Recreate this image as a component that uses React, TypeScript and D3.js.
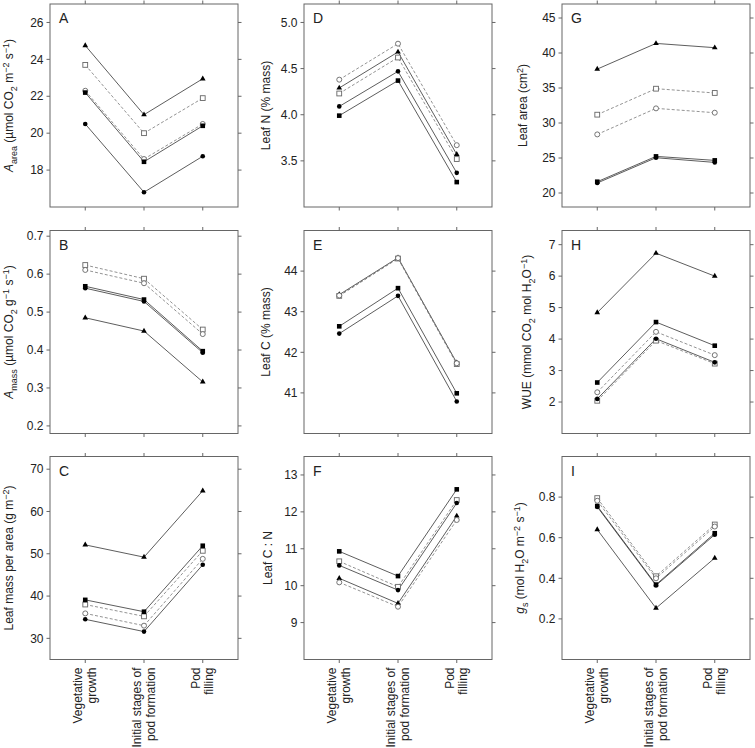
import React from "react";
import * as d3 from "d3";

const stages = ["Vegetative growth", "Initial stages of pod formation", "Pod filling"];
const stageLines = [["Vegetative", "growth"], ["Initial stages of", "pod formation"], ["Pod", "filling"]];

// series order: filled triangle, open square, open circle, filled square, filled circle
const seriesKeys = ["tri", "osq", "ocir", "fsq", "fcir"];

const panelA = [[24.75, 21.0, 22.95], [23.7, 20.0, 21.9], [22.3, 18.6, 20.5], [22.2, 18.45, 20.4], [20.5, 16.8, 18.75]];
const panelB = [[0.485, 0.45, 0.316], [0.624, 0.588, 0.454], [0.611, 0.576, 0.442], [0.568, 0.533, 0.397], [0.563, 0.528, 0.393]];
const panelC = [[52.1, 49.2, 64.9], [38.0, 35.2, 50.7], [35.9, 33.0, 48.8], [39.1, 36.3, 51.9], [34.5, 31.6, 47.4]];
const panelD = [[4.29, 4.68, 3.57], [4.23, 4.62, 3.52], [4.38, 4.77, 3.67], [3.99, 4.37, 3.27], [4.09, 4.47, 3.37]];
const panelE = [[43.42, 44.33, 41.74], [43.39, 44.31, 41.71], [43.4, 44.32, 41.73], [42.64, 43.58, 40.99], [42.46, 43.39, 40.79]];
const panelF = [[10.2, 9.52, 11.89], [10.66, 9.97, 12.32], [10.09, 9.43, 11.78], [10.93, 10.26, 12.61], [10.55, 9.88, 12.24]];
const panelG = [[37.7, 41.37, 40.76], [31.19, 34.9, 34.29], [28.37, 32.09, 31.47], [21.61, 25.23, 24.66], [21.43, 25.04, 24.37]];
const panelH = [[4.84, 6.73, 6.0], [2.04, 3.95, 3.22], [2.31, 4.23, 3.49], [2.62, 4.54, 3.79], [2.1, 4.01, 3.26]];
const panelI = [[0.64, 0.253, 0.5], [0.795, 0.41, 0.665], [0.782, 0.4, 0.655], [0.756, 0.369, 0.622], [0.752, 0.365, 0.615]];

const ticksA = [18, 20, 22, 24, 26];
const ticksB = [0.2, 0.3, 0.4, 0.5, 0.6, 0.7];
const ticksC = [30, 40, 50, 60, 70];
const ticksD = [3.5, 4.0, 4.5, 5.0];
const ticksE = [41, 42, 43, 44];
const ticksF = [9, 10, 11, 12, 13];
const ticksG = [20, 25, 30, 35, 40, 45];
const ticksH = [2, 3, 4, 5, 6, 7];
const ticksI = [0.2, 0.4, 0.6, 0.8];

type Part = { t: string; sub?: boolean; sup?: boolean; it?: boolean };

const labelA: Part[] = [{ t: "A", it: true }, { t: "area", sub: true }, { t: " (µmol CO" }, { t: "2", sub: true }, { t: " m" }, { t: "−2", sup: true }, { t: " s" }, { t: "−1", sup: true }, { t: ")" }];
const labelB: Part[] = [{ t: "A", it: true }, { t: "mass", sub: true }, { t: " (µmol CO" }, { t: "2", sub: true }, { t: " g" }, { t: "−1", sup: true }, { t: " s" }, { t: "−1", sup: true }, { t: ")" }];
const labelC: Part[] = [{ t: "Leaf mass per area (g m" }, { t: "−2", sup: true }, { t: ")" }];
const labelD: Part[] = [{ t: "Leaf N (% mass)" }];
const labelE: Part[] = [{ t: "Leaf C (% mass)" }];
const labelF: Part[] = [{ t: "Leaf C : N" }];
const labelG: Part[] = [{ t: "Leaf area (cm" }, { t: "2", sup: true }, { t: ")" }];
const labelH: Part[] = [{ t: "WUE (mmol CO" }, { t: "2", sub: true }, { t: " mol H" }, { t: "2", sub: true }, { t: "O" }, { t: "−1", sup: true }, { t: ")" }];
const labelI: Part[] = [{ t: "g", it: true }, { t: "s", sub: true }, { t: " (mol H" }, { t: "2", sub: true }, { t: "O m" }, { t: "−2", sup: true }, { t: " s" }, { t: "−1", sup: true }, { t: ")" }];

const panels = [
  { id: "A", col: 0, row: 0, data: panelA, domain: [16, 27], ticks: ticksA, fmt: "d", label: labelA, lx: 13 },
  { id: "B", col: 0, row: 1, data: panelB, domain: [0.18, 0.715], ticks: ticksB, fmt: ".1f", label: labelB, lx: 13 },
  { id: "C", col: 0, row: 2, data: panelC, domain: [25, 73], ticks: ticksC, fmt: "d", label: labelC, lx: 13 },
  { id: "D", col: 1, row: 0, data: panelD, domain: [3.0, 5.2], ticks: ticksD, fmt: ".1f", label: labelD, lx: 270 },
  { id: "E", col: 1, row: 1, data: panelE, domain: [40, 45], ticks: ticksE, fmt: "d", label: labelE, lx: 270 },
  { id: "F", col: 1, row: 2, data: panelF, domain: [8, 13.5], ticks: ticksF, fmt: "d", label: labelF, lx: 272 },
  { id: "G", col: 2, row: 0, data: panelG, domain: [18, 47], ticks: ticksG, fmt: "d", label: labelG, lx: 527 },
  { id: "H", col: 2, row: 1, data: panelH, domain: [1, 7.45], ticks: ticksH, fmt: "d", label: labelH, lx: 531 },
  { id: "I", col: 2, row: 2, data: panelI, domain: [0, 1.0], ticks: ticksI, fmt: ".1f", label: labelI, lx: 524 },
];

const colLeft = [50, 304, 562];
const rowTop = [4, 230.5, 456.5];
const PW = 188;
const PH = 203;
const FONT = "Liberation Sans, Arial, Helvetica, sans-serif";
const FRAME = "#666";
const TXT = "#222";

function RichText({ parts, x, y, rotate }: { parts: Part[]; x: number; y: number; rotate?: boolean }) {
  let cur = 0;
  const nodes = parts.map((p, i) => {
    const target = p.sub ? 3.5 : p.sup ? -4.5 : 0;
    const dy = target - cur;
    cur = target;
    return (
      <tspan key={i} dy={dy} fontSize={p.sub || p.sup ? 9 : 12} fontStyle={p.it ? "italic" : "normal"}>
        {p.t}
      </tspan>
    );
  });
  return (
    <text
      transform={`translate(${x},${y})${rotate ? " rotate(-90)" : ""}`}
      textAnchor="middle"
      fontSize={12}
      fill={TXT}
      fontFamily={FONT}
    >
      <tspan dy="0.35em">{""}</tspan>
      {nodes}
    </text>
  );
}

function Marker({ kind, x, y }: { kind: string; x: number; y: number }) {
  if (kind === "tri") {
    const p = d3.symbol(d3.symbolTriangle, 14)();
    return <path d={p || ""} transform={`translate(${x},${y})`} fill="#000" />;
  }
  if (kind === "fsq") return <rect x={x - 2.3} y={y - 2.3} width={4.6} height={4.6} fill="#000" />;
  if (kind === "fcir") return <circle cx={x} cy={y} r={2.3} fill="#000" />;
  if (kind === "osq") return <rect x={x - 2.4} y={y - 2.4} width={4.8} height={4.8} fill="#fff" stroke="#666" strokeWidth={0.9} />;
  return <circle cx={x} cy={y} r={2.5} fill="#fff" stroke="#666" strokeWidth={0.9} />;
}

function Panel({ p }: { p: (typeof panels)[number] }) {
  const left = colLeft[p.col];
  const top = rowTop[p.row];
  const x = d3.scaleLinear().domain([-0.6, 2.6]).range([left, left + PW]);
  const y = d3.scaleLinear().domain(p.domain).range([top + PH, top]);
  const fmt = d3.format(p.fmt);
  const idx = stages.map((_, i) => i);
  const line = d3
    .line<number>()
    .x((_, i) => x(i))
    .y((v) => y(v));
  const TL = 3.5;
  return (
    <g>
      <rect x={left} y={top} width={PW} height={PH} fill="none" stroke={FRAME} strokeWidth={1} />
      {p.ticks.map((t) => (
        <g key={t}>
          <line x1={left - TL} x2={left} y1={y(t)} y2={y(t)} stroke={FRAME} />
          <line x1={left + PW} x2={left + PW + TL} y1={y(t)} y2={y(t)} stroke={FRAME} />
          <text x={left - TL - 3} y={y(t)} dy="0.35em" textAnchor="end" fontSize={12} fill={TXT} fontFamily={FONT}>
            {fmt(t)}
          </text>
        </g>
      ))}
      {idx.map((i) => (
        <g key={i}>
          <line x1={x(i)} x2={x(i)} y1={top - TL} y2={top} stroke={FRAME} />
          <line x1={x(i)} x2={x(i)} y1={top + PH} y2={top + PH + TL} stroke={FRAME} />
        </g>
      ))}
      {p.data.map((vals, si) => {
        const dashed = seriesKeys[si] === "osq" || seriesKeys[si] === "ocir";
        return (
          <path
            key={si}
            d={line(vals) || ""}
            fill="none"
            stroke={dashed ? "#777" : "#333"}
            strokeWidth={0.8}
            strokeDasharray={dashed ? "3,2" : undefined}
          />
        );
      })}
      {p.data.map((vals, si) => (
        <g key={si}>
          {vals.map((v, i) => (
            <Marker key={i} kind={seriesKeys[si]} x={x(i)} y={y(v)} />
          ))}
        </g>
      ))}
      <text x={left + 9} y={top + 19} fontSize={14} fill={TXT} fontFamily={FONT}>
        {p.id}
      </text>
      <RichText parts={p.label} x={p.lx} y={top + PH / 2} rotate />
      {p.row === 2 &&
        stageLines.map((lines, i) => (
          <text
            key={i}
            transform={`translate(${x(i)},${top + PH + 8}) rotate(-90)`}
            textAnchor="end"
            fontSize={12}
            fill={TXT}
            fontFamily={FONT}
          >
            <tspan x={0} y={-3}>{lines[0]}</tspan>
            <tspan x={0} y={10.5}>{lines[1]}</tspan>
          </text>
        ))}
    </g>
  );
}

export default function App() {
  return (
    <svg
      width={755}
      height={748}
      style={{ position: "absolute", left: 0, top: 0, background: "#fff" }}
      fontFamily={FONT}
    >
      <rect width={755} height={748} fill="#fff" />
      {panels.map((p) => (
        <Panel key={p.id} p={p} />
      ))}
    </svg>
  );
}
